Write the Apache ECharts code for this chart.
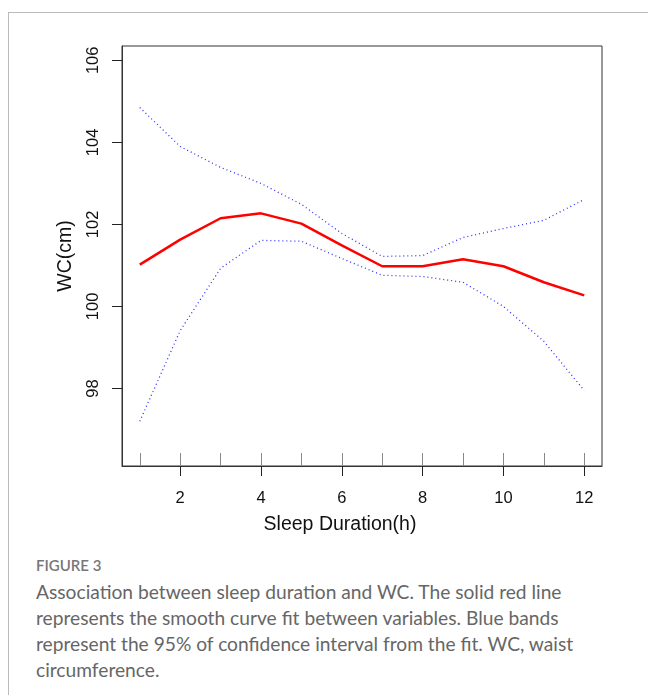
<!DOCTYPE html>
<html>
<head>
<meta charset="utf-8">
<script src="https://cdn.jsdelivr.net/npm/echarts@6/dist/echarts.min.js"></script>
<style>
  html, body { margin: 0; padding: 0; background: #fff; }
  #frame { position: absolute; left: 8px; top: 12px; width: 640px; height: 683px;
    border-top: 1px solid #bbb; border-left: 1px solid #bbb; }
  #main { position: absolute; left: 0; top: 0; width: 648px; height: 540px; }
  #caption { position: absolute; left: 36px; top: 554px; width: 610px;
    font-family: Lato, "Open Sans", sans-serif; color: #666; }
  #caption .fig { font-size: 15px; font-weight: 600; color: #777; line-height: 22px; }
  #caption .txt { font-size: 19.2px; line-height: 26px; margin-top: 3px; white-space: nowrap; }
</style>
</head>
<body>
<div id="frame"></div>
<div id="main"></div>
<div id="caption">
  <div class="fig">FIGURE 3</div>
  <div class="txt">Association between sleep duration and WC. The solid red line<br>represents the smooth curve fit between variables. Blue bands<br>represent the 95% of confidence interval from the fit. WC, waist<br>circumference.</div>
</div>
<script>
// sleep duration (h)
let hours = [1, 2, 3, 4, 5, 6, 7, 8, 9, 10, 11, 12];
// smooth curve fit, WC (cm)
let fit = [101.02, 101.63, 102.15, 102.27, 102.02, 101.49, 100.98, 100.98, 101.15, 100.98, 100.59, 100.27];
// 95% confidence bands
let upper = [104.85, 103.9, 103.39, 103.0, 102.49, 101.78, 101.22, 101.24, 101.68, 101.9, 102.1, 102.61];
let lower = [97.2, 99.41, 100.93, 101.61, 101.59, 101.17, 100.76, 100.73, 100.59, 100.0, 99.15, 97.95];
// tick labels
let xTicks = [2, 4, 6, 8, 10, 12];
let yTicks = [98, 100, 102, 104, 106];

let myChart = echarts.init(document.getElementById("main"));

function pairs(ys) {
  return hours.map((h, i) => [h, ys[i]]);
}

let font = "Liberation Sans";

let options = {
  animation: false,
  grid: {
    left: 122, top: 46, width: 480, height: 420,
    show: true, borderColor: "#333", borderWidth: 1
  },
  xAxis: [
    {
      type: "value", min: 0.56, max: 12.44,
      name: "Sleep Duration(h)", nameLocation: "middle", nameGap: 49,
      nameTextStyle: { fontSize: 19.5, color: "#111", fontFamily: font, padding: [0, 44, 0, 0] },
      splitLine: { show: false },
      axisLine: { show: true, onZero: false, lineStyle: { color: "#333" } },
      axisTick: { show: true, length: 10, customValues: xTicks, lineStyle: { color: "#222" } },
      axisLabel: { customValues: xTicks, fontSize: 16.5, color: "#111", margin: 24, fontFamily: font }
    },
    {
      // rug marks at each observed duration
      type: "value", min: 0.56, max: 12.44, position: "bottom",
      splitLine: { show: false },
      axisLine: { show: false },
      axisTick: { show: true, inside: true, length: 13, customValues: hours, lineStyle: { color: "#888" } },
      axisLabel: { show: false }
    }
  ],
  yAxis: {
    type: "value", min: 96.11, max: 106.35,
    name: "WC(cm)", nameLocation: "middle", nameGap: 46, nameRotate: 90,
    nameTextStyle: { fontSize: 19.5, color: "#111", fontFamily: font },
    splitLine: { show: false },
    axisLine: { show: true, onZero: false, lineStyle: { color: "#333" } },
    axisTick: { show: true, length: 10, customValues: yTicks, lineStyle: { color: "#222" } },
    axisLabel: { customValues: yTicks, rotate: 90, fontSize: 16.5, color: "#111", margin: 20, fontFamily: font }
  },
  series: [
    {
      name: "upper", type: "line", data: pairs(upper), symbol: "none",
      lineStyle: { color: "#3030ff", width: 1.3, type: [1, 3] }
    },
    {
      name: "lower", type: "line", data: pairs(lower), symbol: "none",
      lineStyle: { color: "#3030ff", width: 1.3, type: [1, 3] }
    },
    {
      name: "fit", type: "line", data: pairs(fit), symbol: "none",
      lineStyle: { color: "#ff0000", width: 2.5 }
    }
  ]
};

myChart.setOption(options);
</script>
</body>
</html>
